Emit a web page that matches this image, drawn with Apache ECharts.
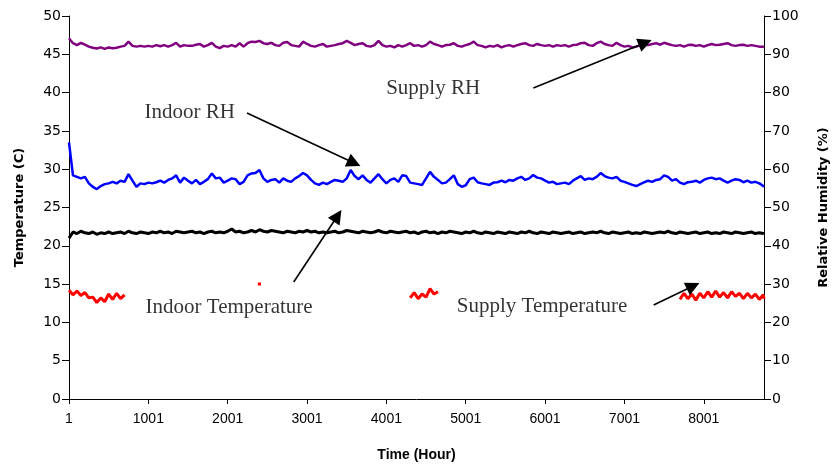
<!DOCTYPE html>
<html>
<head>
<meta charset="utf-8">
<script src="https://cdn.jsdelivr.net/npm/echarts@6/dist/echarts.min.js"></script>
<style>
  html, body { margin: 0; padding: 0; background: #fff; }
  #chart { width: 838px; height: 467px; }
</style>
</head>
<body>
<div id="chart"></div>
<script>
// Hourly record over one year, sampled every 50 hours (x = hour index, label = index + 1)
const STEP = 50;
const LAST_HOUR = 8759;
const xTickLabels = ['1', '1001', '2001', '3001', '4001', '5001', '6001', '7001', '8001'];

// Supply air relative humidity (%)
const supplyRH = [
  94.2, 92.9, 92.4, 93.0, 92.5, 92.0, 91.7, 91.5, 91.8, 91.4,
  91.8, 91.6, 91.7, 92.0, 92.2, 93.3, 92.2, 92.0, 92.2, 92.0,
  92.2, 92.0, 92.4, 92.1, 92.4, 92.0, 92.4, 93.0, 92.0, 92.4,
  92.2, 92.2, 92.5, 92.7, 92.0, 92.4, 93.0, 92.0, 91.6, 92.2,
  92.0, 92.4, 92.0, 92.9, 92.0, 92.9, 93.3, 93.2, 93.5, 92.9,
  92.7, 93.0, 92.4, 92.2, 93.0, 93.2, 92.4, 92.2, 92.0, 93.3,
  92.7, 92.2, 92.0, 92.4, 92.7, 92.0, 92.2, 92.4, 92.7, 92.9,
  93.5, 93.0, 92.4, 92.7, 92.9, 92.2, 92.0, 92.4, 93.5, 92.4,
  92.0, 92.2, 91.8, 92.4, 92.0, 92.4, 92.9, 92.2, 92.4, 92.0,
  92.4, 93.3, 92.7, 92.4, 92.0, 92.4, 92.5, 92.9, 92.2, 92.0,
  92.4, 92.7, 93.3, 92.4, 92.2, 91.8, 92.2, 92.0, 92.4, 91.8,
  92.2, 92.4, 92.0, 92.4, 92.7, 92.9, 92.4, 92.2, 92.7, 92.4,
  92.2, 92.4, 92.0, 92.4, 92.2, 92.4, 92.0, 92.4, 92.5, 92.9,
  93.0, 92.4, 92.2, 92.9, 93.3, 92.7, 92.4, 92.2, 93.0, 92.4,
  92.0, 92.2, 91.8, 92.0, 92.4, 92.5, 92.4, 92.7, 92.9, 92.5,
  93.0, 92.7, 92.4, 92.2, 92.4, 92.0, 92.4, 92.5, 92.2, 92.4,
  92.0, 92.4, 92.7, 92.4, 92.5, 92.7, 92.9, 92.4, 92.2, 92.4,
  92.5, 92.2, 92.4, 92.2, 92.0, 92.0, 91.8
];

// Indoor relative humidity (%)
const indoorRH = [
  67.0, 58.4, 58.0, 57.6, 58.0, 56.3, 55.4, 54.8, 55.6, 56.1,
  56.3, 56.7, 56.3, 57.0, 56.7, 58.7, 57.0, 55.4, 56.3, 56.1,
  56.5, 56.3, 56.6, 57.0, 56.5, 57.2, 57.6, 58.4, 56.5, 57.8,
  57.0, 56.3, 57.2, 56.1, 56.7, 57.4, 58.9, 57.6, 57.8, 56.5,
  57.0, 57.6, 57.4, 56.1, 56.7, 58.4, 58.9, 59.0, 59.8, 57.6,
  56.7, 57.2, 57.4, 56.5, 57.6, 57.0, 56.7, 57.6, 58.2, 59.0,
  58.4, 57.2, 56.3, 55.9, 56.5, 56.1, 56.7, 57.2, 57.0, 56.7,
  57.6, 59.8, 58.2, 57.4, 58.4, 57.2, 56.5, 57.6, 58.7, 57.4,
  56.3, 57.2, 57.6, 56.7, 58.4, 58.2, 56.5, 56.3, 56.1, 55.9,
  57.6, 59.3, 58.0, 57.2, 56.3, 56.5, 57.4, 58.4, 56.1, 55.4,
  55.8, 57.4, 57.8, 56.6, 56.3, 56.1, 55.9, 56.5, 56.6, 57.0,
  56.6, 57.2, 57.0, 57.6, 58.0, 57.2, 57.6, 58.5, 57.8, 57.6,
  57.0, 56.5, 56.7, 56.1, 56.3, 56.5, 56.1, 57.0, 57.6, 58.2,
  57.2, 57.6, 57.4, 58.0, 59.0, 58.2, 57.8, 57.6, 58.0, 57.0,
  56.7, 56.3, 55.9, 55.6, 56.1, 56.6, 57.0, 56.7, 57.2, 57.4,
  58.4, 58.0, 57.0, 57.4, 56.5, 56.1, 56.6, 56.7, 57.0, 56.5,
  57.2, 57.6, 57.8, 57.4, 57.6, 57.0, 56.5, 57.0, 57.4, 57.2,
  56.6, 57.0, 56.5, 56.7, 56.3, 55.6, 55.4
];

// Indoor air temperature (C)
const indoorTemp = [
  21.0, 21.8, 21.6, 21.9, 21.7, 21.6, 21.8, 21.5, 21.7, 21.6,
  21.8, 21.6, 21.7, 21.8, 21.6, 21.9, 21.7, 21.6, 21.8, 21.7,
  21.6, 21.8, 21.7, 21.9, 21.7, 21.8, 21.6, 21.9, 21.8, 21.7,
  21.8, 21.9, 21.7, 21.8, 21.6, 21.8, 21.9, 21.7, 21.8, 21.7,
  21.9, 22.2, 21.8, 21.9, 21.7, 21.8, 22.0, 21.8, 22.1, 21.9,
  21.8, 22.0, 21.9, 21.8, 21.7, 21.9, 21.8, 21.7, 21.9, 21.8,
  22.0, 21.8, 21.9, 21.7, 21.8, 21.7, 21.8, 21.9, 21.7, 21.8,
  22.0, 21.9, 21.8, 21.7, 21.9, 21.8, 21.7, 21.8, 22.0, 21.8,
  21.7, 21.9, 21.8, 21.7, 21.8, 21.9, 21.7, 21.8, 21.6, 21.8,
  21.9, 21.7, 21.8, 21.6, 21.8, 21.7, 21.9, 21.8, 21.7, 21.6,
  21.8, 21.7, 21.9, 21.7, 21.6, 21.8, 21.7, 21.6, 21.8, 21.7,
  21.6, 21.8, 21.7, 21.6, 21.8, 21.7, 21.9, 21.7, 21.6, 21.8,
  21.7, 21.6, 21.8, 21.7, 21.6, 21.7, 21.8, 21.6, 21.7, 21.8,
  21.6, 21.7, 21.8, 21.7, 21.9, 21.7, 21.6, 21.8, 21.7, 21.6,
  21.7, 21.8, 21.6, 21.7, 21.6, 21.8, 21.7, 21.6, 21.7, 21.8,
  21.7, 21.9, 21.7, 21.6, 21.8, 21.7, 21.6, 21.7, 21.8, 21.6,
  21.7, 21.8, 21.6, 21.7, 21.6, 21.8, 21.7, 21.6, 21.8, 21.7,
  21.6, 21.7, 21.8, 21.6, 21.7, 21.6, 21.5
];

// Supply air temperature (C): only logged during some periods
const supplyTempEarlyStart = 0;
const supplyTempEarly = [14.2, 13.6, 14.1, 13.5, 13.9, 13.2, 13.3, 12.6, 13.2, 12.7, 13.7, 13.0, 13.8, 13.1, 13.6];
const supplyTempBlipHours = [2380, 2420];
const supplyTempBlip = [15.0, 15.0];
const supplyTempMidStart = 4300;
const supplyTempMid = [13.2, 13.9, 13.1, 13.7, 13.3, 14.4, 13.7, 14.0];
const supplyTempLateStart = 7700;
const supplyTempLate = [13.0, 13.8, 13.1, 13.7, 12.9, 13.8, 13.2, 14.0, 13.3, 14.1, 13.3, 13.9, 13.2, 14.0, 13.4, 13.8, 13.1, 13.8, 13.2, 13.7, 13.0, 13.6, 13.1];

// Build [x, y] pairs on the sampling grid
function onGrid(values, start) {
  return values.map((v, i) => [Math.min(start + i * STEP, LAST_HOUR), v]);
}

const supplyTempData = []
  .concat(onGrid(supplyTempEarly, supplyTempEarlyStart), [[null, null]])
  .concat(supplyTempBlipHours.map((h, i) => [h, supplyTempBlip[i]]), [[null, null]])
  .concat(onGrid(supplyTempMid, supplyTempMidStart), [[null, null]])
  .concat(onGrid(supplyTempLate, supplyTempLateStart));

// Callout labels and their arrows, placed in (hour index, temperature) units
const callouts = [
  { text: 'Supply RH',          at: [3997, 40.6], from: [5852, 40.60], to: [7262, 46.52] },
  { text: 'Indoor RH',          at: [952, 37.4],  from: [2243, 37.34], to: [3593, 30.81] },
  { text: 'Indoor Temperature', at: [965, 11.9],  from: [2832, 15.27], to: [3385, 23.92] },
  { text: 'Supply Temperature', at: [4887, 12.1], from: [7368, 12.27], to: [7866, 14.75] }
];

const narrowFont = "'Liberation Sans', Arial, sans-serif";
const wideFont = "'DejaVu Sans', Verdana, sans-serif";
const black = '#000';

const chart = echarts.init(document.getElementById('chart'), null, { renderer: 'canvas' });

function valueAxis(pos, max, interval, title, gap) {
  return {
    type: 'value',
    min: 0, max: max, interval: interval,
    position: pos,
    name: title,
    nameLocation: 'middle',
    nameRotate: 90,
    nameGap: gap,
    nameTextStyle: { fontFamily: wideFont, fontWeight: 'bold', fontSize: 13, color: black },
    axisLine: { show: true, lineStyle: { color: black, width: 1 } },
    axisTick: { show: true, inside: false, length: 7, lineStyle: { color: black } },
    axisLabel: { fontFamily: wideFont, fontSize: 14, color: black, margin: 8 },
    splitLine: { show: false }
  };
}

const option = {
  animation: false,
  backgroundColor: '#fff',
  grid: { left: 69, right: 70, top: 16, bottom: 68, containLabel: false },
  xAxis: {
    type: 'value',
    min: 0,
    max: LAST_HOUR,
    interval: 1000,
    name: 'Time (Hour)',
    nameLocation: 'middle',
    nameGap: 49,
    nameTextStyle: { fontFamily: narrowFont, fontWeight: 'bold', fontSize: 14, color: black },
    axisLine: { show: true, lineStyle: { color: black, width: 1 } },
    axisTick: { show: true, inside: false, length: 5, lineStyle: { color: black } },
    axisLabel: {
      show: true, margin: 13, fontFamily: narrowFont, fontSize: 14, color: black,
      showMaxLabel: false,
      formatter: v => (v % 1000 === 0 ? xTickLabels[v / 1000] : '')
    },
    splitLine: { show: false }
  },
  yAxis: [
    valueAxis('left', 50, 5, 'Temperature (C)', 43),
    valueAxis('right', 100, 10, 'Relative Humidity (%)', 53)
  ],
  series: [
    {
      name: 'Supply RH',
      type: 'line',
      yAxisIndex: 1,
      data: onGrid(supplyRH, 0),
      showSymbol: false,
      lineStyle: { color: '#800080', width: 2.5 },
      itemStyle: { color: '#800080' },
      silent: true
    },
    {
      name: 'Indoor RH',
      type: 'line',
      yAxisIndex: 1,
      data: onGrid(indoorRH, 0),
      showSymbol: false,
      lineStyle: { color: '#0000ff', width: 2.5 },
      itemStyle: { color: '#0000ff' },
      silent: true
    },
    {
      name: 'Indoor Temperature',
      type: 'line',
      yAxisIndex: 0,
      data: onGrid(indoorTemp, 0),
      showSymbol: false,
      lineStyle: { color: black, width: 3 },
      itemStyle: { color: black },
      silent: true,
      markLine: {
        silent: true,
        symbol: ['none', 'triangle'],
        symbolSize: 14,
        label: { show: false },
        lineStyle: { color: black, width: 1.6, type: 'solid' },
        itemStyle: { color: black },
        emphasis: { disabled: true },
        data: callouts.map(c => [{ coord: c.from }, { coord: c.to }])
      }
    },
    {
      name: 'Supply Temperature',
      type: 'line',
      yAxisIndex: 0,
      data: supplyTempData,
      connectNulls: false,
      showSymbol: false,
      lineStyle: { color: '#ff0000', width: 3 },
      itemStyle: { color: '#ff0000' },
      silent: true
    },
    {
      name: 'callouts',
      type: 'scatter',
      yAxisIndex: 0,
      symbolSize: 0,
      silent: true,
      data: callouts.map(c => ({ name: c.text, value: c.at })),
      label: {
        show: true,
        position: 'right',
        distance: 0,
        formatter: '{b}',
        fontFamily: "'Liberation Serif', 'Times New Roman', serif",
        fontSize: 21,
        color: black
      }
    }
  ]
};

chart.setOption(option);
</script>
</body>
</html>
